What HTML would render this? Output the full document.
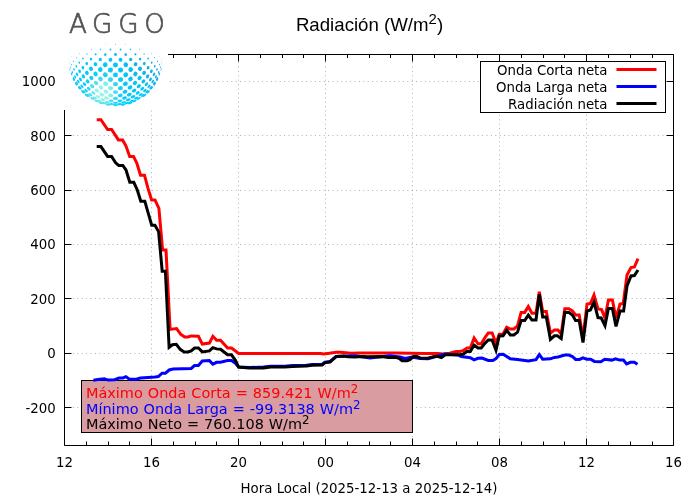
<!DOCTYPE html>
<html lang="es"><head><meta charset="utf-8"><title>Radiación (W/m2)</title>
<style>html,body{margin:0;padding:0;background:#fff;overflow:hidden}svg{display:block;will-change:transform}text{font-family:"DejaVu Sans","Liberation Sans",sans-serif;font-size:13.33px;fill:#000}.t{font-family:"Liberation Sans",sans-serif;font-size:18.67px}.b{font-size:14.45px;word-spacing:0.44px}</style></head><body>
<svg width="700" height="500" viewBox="0 0 700 500">
<rect width="700" height="500" fill="#fff"/>
<g stroke="#000" stroke-opacity="0.31" stroke-width="1" stroke-dasharray="1 3.4" stroke-dashoffset="0.4" fill="none"><line x1="64.50" y1="407.50" x2="673.50" y2="407.50"/><line x1="64.50" y1="353.50" x2="673.50" y2="353.50"/><line x1="64.50" y1="298.50" x2="673.50" y2="298.50"/><line x1="64.50" y1="244.50" x2="673.50" y2="244.50"/><line x1="64.50" y1="190.50" x2="673.50" y2="190.50"/><line x1="64.50" y1="135.50" x2="673.50" y2="135.50"/><line x1="64.50" y1="81.50" x2="673.50" y2="81.50"/><line x1="151.50" y1="445.50" x2="151.50" y2="54.50"/><line x1="238.50" y1="445.50" x2="238.50" y2="54.50"/><line x1="325.50" y1="445.50" x2="325.50" y2="54.50"/><line x1="412.50" y1="445.50" x2="412.50" y2="54.50"/><line x1="499.50" y1="445.50" x2="499.50" y2="54.50"/><line x1="586.50" y1="445.50" x2="586.50" y2="54.50"/></g>
<rect x="81.5" y="380.5" width="331" height="52" fill="#d89ca1" stroke="#000" stroke-width="1"/>
<path d="M64.5 54.5H673.5V445.5H64.5Z M64.50 445.50v-7 M64.50 54.50v7 M86.50 445.50v-4 M86.50 54.50v3.5 M108.50 445.50v-4 M108.50 54.50v3.5 M129.50 445.50v-4 M129.50 54.50v3.5 M151.50 445.50v-7 M151.50 54.50v7 M173.50 445.50v-4 M173.50 54.50v3.5 M195.50 445.50v-4 M195.50 54.50v3.5 M216.50 445.50v-4 M216.50 54.50v3.5 M238.50 445.50v-7 M238.50 54.50v7 M260.50 445.50v-4 M260.50 54.50v3.5 M282.50 445.50v-4 M282.50 54.50v3.5 M303.50 445.50v-4 M303.50 54.50v3.5 M325.50 445.50v-7 M325.50 54.50v7 M347.50 445.50v-4 M347.50 54.50v3.5 M369.50 445.50v-4 M369.50 54.50v3.5 M390.50 445.50v-4 M390.50 54.50v3.5 M412.50 445.50v-7 M412.50 54.50v7 M434.50 445.50v-4 M434.50 54.50v3.5 M456.50 445.50v-4 M456.50 54.50v3.5 M477.50 445.50v-4 M477.50 54.50v3.5 M499.50 445.50v-7 M499.50 54.50v7 M521.50 445.50v-4 M521.50 54.50v3.5 M543.50 445.50v-4 M543.50 54.50v3.5 M564.50 445.50v-4 M564.50 54.50v3.5 M586.50 445.50v-7 M586.50 54.50v7 M608.50 445.50v-4 M608.50 54.50v3.5 M630.50 445.50v-4 M630.50 54.50v3.5 M652.50 445.50v-4 M652.50 54.50v3.5 M673.50 445.50v-7 M673.50 54.50v7 M64.50 407.50h7 M673.50 407.50h-7 M64.50 353.50h7 M673.50 353.50h-7 M64.50 298.50h7 M673.50 298.50h-7 M64.50 244.50h7 M673.50 244.50h-7 M64.50 190.50h7 M673.50 190.50h-7 M64.50 135.50h7 M673.50 135.50h-7 M64.50 81.50h7 M673.50 81.50h-7" fill="none" stroke="#000" stroke-width="1"/>
<polyline fill="none" stroke="#ff0000" stroke-width="3" stroke-linejoin="miter" stroke-linecap="butt" points="96.7,119.7 100.9,119.7 107.6,129.5 111.6,129.5 118.4,139.9 122.6,139.9 126.0,146.0 129.7,156.4 133.5,156.4 136.8,163.0 140.5,175.2 144.5,175.2 147.8,187.6 151.6,199.9 155.0,199.9 158.9,208.4 162.6,249.9 166.0,249.9 170.1,329.4 176.6,328.5 180.8,334.3 184.7,336.9 188.0,336.9 191.2,335.9 198.4,336.3 202.3,344.1 209.4,343.1 212.9,336.3 216.6,340.2 220.5,340.2 227.6,348.0 231.5,348.0 238.7,353.5 320.7,353.6 323.6,354.0 329.3,353.3 336.4,352.2 340.7,352.2 350.7,353.3 359.3,352.9 396.4,353.0 425.0,353.5 438.1,353.4 442.6,354.1 449.7,353.2 456.1,351.5 460.0,351.5 463.2,350.6 467.1,348.0 470.3,348.0 474.1,338.0 478.0,343.8 481.2,343.8 485.1,337.4 488.3,332.9 492.1,332.9 496.0,343.1 499.3,334.2 503.1,334.0 506.7,327.2 510.3,329.0 513.9,329.0 517.5,325.9 521.1,312.4 524.7,312.4 528.3,306.6 531.9,313.3 536.0,313.3 539.3,291.7 542.7,311.5 546.3,311.5 550.4,333.1 554.4,330.0 558.0,330.0 561.2,334.0 564.8,308.8 568.8,308.8 572.4,311.0 575.6,315.0 579.2,315.0 583.0,338.0 587.0,304.0 590.4,303.6 594.0,295.0 598.0,309.0 601.6,309.6 605.0,318.0 608.4,300.0 612.4,300.0 616.0,318.0 620.0,304.0 623.2,303.6 627.0,275.0 631.0,267.6 634.4,267.0 638.0,258.6"/>
<polyline fill="none" stroke="#0000ff" stroke-width="3" stroke-linejoin="miter" stroke-linecap="butt" points="93.4,380.3 97.9,379.6 104.3,378.8 108.1,380.1 114.6,379.7 119.1,378.1 122.9,377.9 125.9,376.6 129.4,379.2 136.4,379.2 140.3,378.1 148.0,377.5 155.1,377.1 158.3,376.6 162.1,373.2 165.4,373.2 169.2,370.0 173.0,369.1 191.2,368.4 194.5,365.5 198.4,365.5 202.3,361.0 209.4,360.6 212.9,364.2 216.6,362.3 220.5,362.3 227.6,360.6 231.5,360.6 235.4,363.2 238.7,367.0 249.3,367.6 263.6,367.1 270.7,366.2 285.0,366.2 292.1,365.5 306.4,365.2 312.1,364.5 322.1,364.2 325.0,362.2 330.0,361.5 336.0,356.5 355.0,355.8 370.0,358.0 390.0,355.8 400.0,357.0 405.0,358.5 412.0,357.0 420.0,358.6 428.0,358.8 436.0,356.5 445.0,354.0 452.0,354.4 458.0,355.0 461.3,356.6 470.3,357.7 474.1,359.9 478.0,358.3 481.9,358.1 488.3,360.5 492.8,360.5 496.0,358.6 499.2,354.5 503.1,354.3 510.3,358.8 517.5,359.6 528.3,361.0 536.0,359.7 539.3,354.7 542.7,359.2 550.4,358.8 554.4,357.4 558.0,357.0 564.8,355.1 568.8,355.1 572.4,356.5 575.6,359.4 579.6,359.4 582.9,357.9 586.7,359.2 590.6,359.2 594.4,361.4 600.9,361.7 604.7,359.2 611.8,360.1 615.6,358.8 619.5,360.1 623.4,360.1 626.6,363.9 630.4,362.3 634.3,362.3 637.5,364.3"/>
<polyline fill="none" stroke="#000000" stroke-width="3" stroke-linejoin="miter" stroke-linecap="butt" points="96.7,146.6 100.9,146.6 107.6,156.4 111.6,156.4 115.6,162.8 118.8,165.5 122.8,165.5 126.0,170.0 129.8,182.3 133.8,182.3 137.3,190.0 140.8,201.2 144.8,201.2 148.0,212.4 151.7,225.2 154.9,225.2 158.6,231.6 162.2,271.2 165.4,271.2 169.1,347.3 172.4,344.7 176.3,344.3 180.2,349.3 184.1,351.9 188.0,351.9 191.2,350.8 194.5,348.0 198.4,348.0 202.3,351.9 209.4,350.9 212.9,347.6 216.6,348.9 220.5,349.3 227.6,354.8 231.5,354.8 235.4,360.3 238.6,367.1 249.3,367.9 263.6,367.9 270.7,367.1 285.0,367.1 292.1,366.4 306.4,366.1 312.1,365.3 322.1,365.0 325.0,362.6 330.0,362.1 336.4,356.4 343.6,356.1 347.9,356.7 355.0,357.1 360.7,356.4 367.9,356.7 382.1,356.4 387.9,357.4 396.4,357.4 399.3,358.6 402.1,360.7 407.1,360.7 410.0,359.6 413.6,356.4 416.4,356.2 420.1,357.9 427.9,358.3 434.3,356.6 438.1,356.6 441.4,357.5 445.2,354.7 460.0,354.7 463.2,354.1 467.1,351.5 470.3,351.5 474.1,345.1 478.0,348.0 481.2,348.0 485.1,343.1 488.3,339.9 492.1,339.9 496.0,350.2 499.2,335.9 503.1,335.8 506.7,330.4 510.3,334.9 513.9,334.9 517.5,332.2 521.1,320.5 524.7,320.5 528.3,315.1 531.9,320.0 536.0,320.0 539.3,294.3 542.7,316.9 546.3,316.9 550.4,339.4 554.4,335.8 557.4,335.8 561.2,338.5 564.8,312.4 568.8,312.4 572.4,315.1 575.6,320.5 579.2,320.5 583.0,342.6 587.0,311.0 590.4,310.0 594.0,302.4 598.0,317.6 601.2,318.0 605.0,325.6 608.4,308.4 612.4,308.4 616.0,326.4 620.0,311.0 623.6,311.0 627.0,286.0 631.0,276.0 634.4,275.6 638.0,270.0"/>
<rect x="480.5" y="61.5" width="185" height="51" fill="#fff" stroke="#000" stroke-width="1"/>
<text x="607.5" y="75.0" text-anchor="end">Onda Corta neta</text>
<line x1="616.5" y1="69.5" x2="656.5" y2="69.5" stroke="#ff0000" stroke-width="3"/>
<text x="607.5" y="92.0" text-anchor="end">Onda Larga neta</text>
<line x1="616.5" y1="86.5" x2="656.5" y2="86.5" stroke="#0000ff" stroke-width="3"/>
<text x="607.5" y="109.0" text-anchor="end">Radiación neta</text>
<line x1="616.5" y1="103.5" x2="656.5" y2="103.5" stroke="#000" stroke-width="3"/>
<rect x="60" y="0" width="108" height="110" fill="#fff"/>
<g><ellipse cx="68.5" cy="58.6" rx="0.13" ry="0.30" fill="#00c8fc" transform="rotate(180 68.5 58.6)"/><ellipse cx="69.1" cy="62.8" rx="0.24" ry="0.58" fill="#00c8fc" transform="rotate(175 69.1 62.8)"/><ellipse cx="69.9" cy="69.5" rx="0.43" ry="1.03" fill="#00c8fc" transform="rotate(166 69.9 69.5)"/><ellipse cx="70.0" cy="60.0" rx="0.21" ry="0.50" fill="#00c8fc" transform="rotate(178 70.0 60.0)"/><ellipse cx="70.4" cy="67.4" rx="0.40" ry="0.95" fill="#00c8fc" transform="rotate(169 70.4 67.4)"/><ellipse cx="71.6" cy="74.0" rx="0.62" ry="1.47" fill="#00c8fc" transform="rotate(160 71.6 74.0)"/><ellipse cx="73.7" cy="79.7" rx="0.72" ry="1.71" fill="#00c8fc" transform="rotate(153 73.7 79.7)"/><ellipse cx="71.6" cy="56.7" rx="0.19" ry="0.39" fill="#00c8fc" transform="rotate(-178 71.6 56.7)"/><ellipse cx="71.6" cy="64.6" rx="0.41" ry="0.88" fill="#00c8fc" transform="rotate(172 71.6 64.6)"/><ellipse cx="72.4" cy="72.1" rx="0.60" ry="1.42" fill="#00c8fc" transform="rotate(162 72.4 72.1)"/><ellipse cx="74.0" cy="78.7" rx="0.73" ry="1.73" fill="#00c8fc" transform="rotate(154 74.0 78.7)"/><ellipse cx="76.2" cy="84.0" rx="0.78" ry="1.85" fill="#01c8fc" transform="rotate(147 76.2 84.0)"/><ellipse cx="73.6" cy="61.4" rx="0.45" ry="0.79" fill="#00c8fc" transform="rotate(176 73.6 61.4)"/><ellipse cx="74.0" cy="69.5" rx="0.73" ry="1.37" fill="#00c8fc" transform="rotate(165 74.0 69.5)"/><ellipse cx="75.1" cy="76.9" rx="0.81" ry="1.79" fill="#00c8fc" transform="rotate(155 75.1 76.9)"/><ellipse cx="76.9" cy="83.2" rx="0.79" ry="1.88" fill="#01c8fc" transform="rotate(147 76.9 83.2)"/><ellipse cx="79.3" cy="88.1" rx="0.83" ry="1.97" fill="#04c9fb" transform="rotate(141 79.3 88.1)"/><ellipse cx="76.3" cy="57.6" rx="0.43" ry="0.65" fill="#00c8fc" transform="rotate(-179 76.3 57.6)"/><ellipse cx="76.3" cy="66.3" rx="0.82" ry="1.29" fill="#00c8fc" transform="rotate(169 76.3 66.3)"/><ellipse cx="77.0" cy="74.4" rx="1.09" ry="1.88" fill="#00c8fc" transform="rotate(157 77.0 74.4)"/><ellipse cx="78.3" cy="81.6" rx="0.95" ry="1.94" fill="#01c8fc" transform="rotate(148 78.3 81.6)"/><ellipse cx="80.2" cy="87.6" rx="0.84" ry="2.01" fill="#05cafb" transform="rotate(140 80.2 87.6)"/><ellipse cx="82.7" cy="91.9" rx="0.88" ry="2.09" fill="#0cccfa" transform="rotate(134 82.7 91.9)"/><ellipse cx="79.6" cy="53.5" rx="0.33" ry="0.46" fill="#00c8fc" transform="rotate(-172 79.6 53.5)"/><ellipse cx="79.3" cy="62.6" rx="0.84" ry="1.16" fill="#00c8fc" transform="rotate(173 79.3 62.6)"/><ellipse cx="79.6" cy="71.3" rx="1.28" ry="1.87" fill="#00c8fc" transform="rotate(160 79.6 71.3)"/><ellipse cx="80.5" cy="79.4" rx="1.24" ry="2.02" fill="#02c9fc" transform="rotate(149 80.5 79.4)"/><ellipse cx="82.0" cy="86.3" rx="1.04" ry="2.07" fill="#08cafb" transform="rotate(140 82.0 86.3)"/><ellipse cx="84.0" cy="91.7" rx="0.89" ry="2.13" fill="#11cdf9" transform="rotate(133 84.0 91.7)"/><ellipse cx="86.5" cy="95.3" rx="0.92" ry="2.19" fill="#1ed3f8" transform="rotate(128 86.5 95.3)"/><ellipse cx="82.9" cy="58.4" rx="0.78" ry="0.98" fill="#00c8fc" transform="rotate(180 82.9 58.4)"/><ellipse cx="82.9" cy="67.7" rx="1.36" ry="1.76" fill="#00c8fc" transform="rotate(164 82.9 67.7)"/><ellipse cx="83.4" cy="76.4" rx="1.51" ry="2.11" fill="#03c9fc" transform="rotate(151 83.4 76.4)"/><ellipse cx="84.5" cy="84.2" rx="1.34" ry="2.14" fill="#0dccfa" transform="rotate(140 84.5 84.2)"/><ellipse cx="86.1" cy="90.6" rx="1.09" ry="2.18" fill="#1cd1f7" transform="rotate(132 86.1 90.6)"/><ellipse cx="88.1" cy="95.3" rx="0.94" ry="2.23" fill="#2ad6f6" transform="rotate(127 88.1 95.3)"/><ellipse cx="86.9" cy="54.0" rx="0.64" ry="0.75" fill="#00c8fc" transform="rotate(-171 86.9 54.0)"/><ellipse cx="86.7" cy="63.6" rx="1.34" ry="1.59" fill="#00c8fc" transform="rotate(170 86.7 63.6)"/><ellipse cx="86.9" cy="72.9" rx="1.77" ry="2.20" fill="#03c9fc" transform="rotate(153 86.9 72.9)"/><ellipse cx="87.6" cy="81.4" rx="1.62" ry="2.22" fill="#13cef9" transform="rotate(140 87.6 81.4)"/><ellipse cx="88.8" cy="88.7" rx="1.40" ry="2.24" fill="#30d6f4" transform="rotate(131 88.8 88.7)"/><ellipse cx="90.4" cy="94.6" rx="1.09" ry="2.28" fill="#43ddf2" transform="rotate(125 90.4 94.6)"/><ellipse cx="92.3" cy="98.5" rx="0.97" ry="2.31" fill="#47e0f2" transform="rotate(120 92.3 98.5)"/><ellipse cx="91.4" cy="49.3" rx="0.42" ry="0.47" fill="#00c8fc" transform="rotate(-159 91.4 49.3)"/><ellipse cx="91.0" cy="59.1" rx="1.21" ry="1.36" fill="#00c8fc" transform="rotate(178 91.0 59.1)"/><ellipse cx="91.0" cy="68.8" rx="1.96" ry="2.24" fill="#02c9fc" transform="rotate(157 91.0 68.8)"/><ellipse cx="91.4" cy="78.0" rx="1.88" ry="2.29" fill="#15cef9" transform="rotate(141 91.4 78.0)"/><ellipse cx="92.2" cy="86.2" rx="1.68" ry="2.31" fill="#4adef0" transform="rotate(130 92.2 86.2)"/><ellipse cx="93.3" cy="92.9" rx="1.41" ry="2.33" fill="#6de9eb" transform="rotate(123 93.3 92.9)"/><ellipse cx="94.8" cy="98.0" rx="1.04" ry="2.35" fill="#67e8ec" transform="rotate(118 94.8 98.0)"/><ellipse cx="96.6" cy="101.1" rx="1.00" ry="2.38" fill="#59e5ef" transform="rotate(114 96.6 101.1)"/><ellipse cx="95.6" cy="54.3" rx="0.99" ry="1.07" fill="#00c8fc" transform="rotate(-168 95.6 54.3)"/><ellipse cx="95.5" cy="64.3" rx="1.86" ry="2.01" fill="#01c8fc" transform="rotate(164 95.5 64.3)"/><ellipse cx="95.6" cy="74.0" rx="2.10" ry="2.36" fill="#0fcdfa" transform="rotate(142 95.6 74.0)"/><ellipse cx="96.1" cy="82.9" rx="1.93" ry="2.37" fill="#55e2ee" transform="rotate(128 96.1 82.9)"/><ellipse cx="96.9" cy="90.6" rx="1.69" ry="2.38" fill="#96f5e4" transform="rotate(120 96.9 90.6)"/><ellipse cx="98.0" cy="96.7" rx="1.36" ry="2.40" fill="#96f5e4" transform="rotate(115 98.0 96.7)"/><ellipse cx="99.3" cy="100.9" rx="1.01" ry="2.41" fill="#6febeb" transform="rotate(111 99.3 100.9)"/><ellipse cx="100.9" cy="103.0" rx="1.02" ry="2.43" fill="#58e5ef" transform="rotate(108 100.9 103.0)"/><ellipse cx="100.5" cy="49.4" rx="0.69" ry="0.73" fill="#01c7fb" transform="rotate(-149 100.5 49.4)"/><ellipse cx="100.3" cy="59.5" rx="1.64" ry="1.70" fill="#00c8fc" transform="rotate(176 100.3 59.5)"/><ellipse cx="100.3" cy="69.6" rx="2.28" ry="2.42" fill="#06cafb" transform="rotate(144 100.3 69.6)"/><ellipse cx="100.5" cy="79.0" rx="2.15" ry="2.42" fill="#3fdbf2" transform="rotate(126 100.5 79.0)"/><ellipse cx="101.0" cy="87.5" rx="1.93" ry="2.43" fill="#96f5e4" transform="rotate(116 101.0 87.5)"/><ellipse cx="101.7" cy="94.6" rx="1.64" ry="2.44" fill="#96f5e4" transform="rotate(111 101.7 94.6)"/><ellipse cx="102.7" cy="99.8" rx="1.25" ry="2.44" fill="#89f2e6" transform="rotate(107 102.7 99.8)"/><ellipse cx="103.7" cy="103.1" rx="1.03" ry="2.45" fill="#59e6ef" transform="rotate(105 103.7 103.1)"/><ellipse cx="105.6" cy="44.5" rx="0.34" ry="0.35" fill="#06bef6" transform="rotate(-126 105.6 44.5)"/><ellipse cx="105.3" cy="54.6" rx="1.32" ry="1.34" fill="#01c7fb" transform="rotate(-159 105.3 54.6)"/><ellipse cx="105.2" cy="64.8" rx="2.29" ry="2.35" fill="#01c8fc" transform="rotate(148 105.2 64.8)"/><ellipse cx="105.3" cy="74.7" rx="2.31" ry="2.47" fill="#1ad0f8" transform="rotate(122 105.3 74.7)"/><ellipse cx="105.6" cy="83.8" rx="2.14" ry="2.47" fill="#7eeee8" transform="rotate(111 105.6 83.8)"/><ellipse cx="106.0" cy="91.7" rx="1.88" ry="2.47" fill="#96f5e4" transform="rotate(106 106.0 91.7)"/><ellipse cx="106.5" cy="98.0" rx="1.53" ry="2.47" fill="#96f5e4" transform="rotate(103 106.5 98.0)"/><ellipse cx="107.2" cy="102.4" rx="1.08" ry="2.48" fill="#59e5ef" transform="rotate(101 107.2 102.4)"/><ellipse cx="108.0" cy="104.6" rx="1.04" ry="2.48" fill="#3bdff4" transform="rotate(99 108.0 104.6)"/><ellipse cx="110.4" cy="49.5" rx="0.91" ry="0.93" fill="#06bef6" transform="rotate(-120 110.4 49.5)"/><ellipse cx="110.4" cy="59.8" rx="1.94" ry="1.95" fill="#01c7fb" transform="rotate(165 110.4 59.8)"/><ellipse cx="110.4" cy="70.0" rx="2.43" ry="2.49" fill="#05cafb" transform="rotate(114 110.4 70.0)"/><ellipse cx="110.4" cy="79.6" rx="2.29" ry="2.49" fill="#31d7f4" transform="rotate(103 110.4 79.6)"/><ellipse cx="110.6" cy="88.2" rx="2.07" ry="2.49" fill="#80eee8" transform="rotate(99 110.6 88.2)"/><ellipse cx="110.8" cy="95.4" rx="1.76" ry="2.49" fill="#7feee8" transform="rotate(97 110.8 95.4)"/><ellipse cx="111.1" cy="100.8" rx="1.36" ry="2.49" fill="#4ee2f1" transform="rotate(96 111.1 100.8)"/><ellipse cx="111.5" cy="104.1" rx="1.05" ry="2.49" fill="#2edbf7" transform="rotate(95 111.5 104.1)"/><ellipse cx="115.5" cy="44.5" rx="0.46" ry="0.47" fill="#0ab5f1" transform="rotate(-90 115.5 44.5)"/><ellipse cx="115.5" cy="54.6" rx="1.48" ry="1.49" fill="#05bef6" transform="rotate(-90 115.5 54.6)"/><ellipse cx="115.5" cy="64.9" rx="2.48" ry="2.50" fill="#01c7fb" transform="rotate(90 115.5 64.9)"/><ellipse cx="115.5" cy="74.9" rx="2.39" ry="2.50" fill="#0acbfa" transform="rotate(90 115.5 74.9)"/><ellipse cx="115.5" cy="84.1" rx="2.21" ry="2.50" fill="#2ed6f5" transform="rotate(90 115.5 84.1)"/><ellipse cx="115.5" cy="92.1" rx="1.94" ry="2.50" fill="#47ddf1" transform="rotate(90 115.5 92.1)"/><ellipse cx="115.5" cy="98.4" rx="1.59" ry="2.50" fill="#35dbf4" transform="rotate(90 115.5 98.4)"/><ellipse cx="115.5" cy="102.8" rx="1.14" ry="2.50" fill="#20d7f9" transform="rotate(90 115.5 102.8)"/><ellipse cx="115.5" cy="105.1" rx="1.05" ry="2.50" fill="#16d5fb" transform="rotate(90 115.5 105.1)"/><ellipse cx="120.6" cy="49.5" rx="0.91" ry="0.93" fill="#0ab5f1" transform="rotate(-60 120.6 49.5)"/><ellipse cx="120.6" cy="59.8" rx="1.94" ry="1.95" fill="#06bef6" transform="rotate(15 120.6 59.8)"/><ellipse cx="120.6" cy="70.0" rx="2.43" ry="2.49" fill="#01c7fb" transform="rotate(66 120.6 70.0)"/><ellipse cx="120.6" cy="79.6" rx="2.29" ry="2.49" fill="#09cbfb" transform="rotate(77 120.6 79.6)"/><ellipse cx="120.4" cy="88.2" rx="2.07" ry="2.49" fill="#17cff8" transform="rotate(81 120.4 88.2)"/><ellipse cx="120.2" cy="95.4" rx="1.76" ry="2.49" fill="#19d1f9" transform="rotate(83 120.2 95.4)"/><ellipse cx="119.9" cy="100.8" rx="1.36" ry="2.49" fill="#11d2fb" transform="rotate(84 119.9 100.8)"/><ellipse cx="119.5" cy="104.1" rx="1.05" ry="2.49" fill="#0cd3fd" transform="rotate(85 119.5 104.1)"/><ellipse cx="125.4" cy="44.5" rx="0.34" ry="0.35" fill="#0fadec" transform="rotate(-54 125.4 44.5)"/><ellipse cx="125.7" cy="54.6" rx="1.32" ry="1.34" fill="#0ab5f1" transform="rotate(-21 125.7 54.6)"/><ellipse cx="125.8" cy="64.8" rx="2.29" ry="2.35" fill="#06bef6" transform="rotate(32 125.8 64.8)"/><ellipse cx="125.7" cy="74.7" rx="2.31" ry="2.47" fill="#01c7fb" transform="rotate(58 125.7 74.7)"/><ellipse cx="125.4" cy="83.8" rx="2.14" ry="2.47" fill="#04c9fb" transform="rotate(69 125.4 83.8)"/><ellipse cx="125.0" cy="91.7" rx="1.88" ry="2.47" fill="#07cafb" transform="rotate(74 125.0 91.7)"/><ellipse cx="124.5" cy="98.0" rx="1.53" ry="2.47" fill="#07cefc" transform="rotate(77 124.5 98.0)"/><ellipse cx="123.8" cy="102.4" rx="1.08" ry="2.48" fill="#05d0fe" transform="rotate(79 123.8 102.4)"/><ellipse cx="123.0" cy="104.6" rx="1.04" ry="2.48" fill="#04d1fe" transform="rotate(81 123.0 104.6)"/><ellipse cx="130.5" cy="49.4" rx="0.69" ry="0.73" fill="#0fadec" transform="rotate(-31 130.5 49.4)"/><ellipse cx="130.7" cy="59.5" rx="1.64" ry="1.70" fill="#0ab5f1" transform="rotate(4 130.7 59.5)"/><ellipse cx="130.7" cy="69.6" rx="2.28" ry="2.42" fill="#06bef6" transform="rotate(36 130.7 69.6)"/><ellipse cx="130.5" cy="79.0" rx="2.15" ry="2.42" fill="#01c6fb" transform="rotate(54 130.5 79.0)"/><ellipse cx="130.0" cy="87.5" rx="1.93" ry="2.43" fill="#01c8fc" transform="rotate(64 130.0 87.5)"/><ellipse cx="129.3" cy="94.6" rx="1.64" ry="2.44" fill="#02cafc" transform="rotate(69 129.3 94.6)"/><ellipse cx="128.3" cy="99.8" rx="1.25" ry="2.44" fill="#02cefe" transform="rotate(73 128.3 99.8)"/><ellipse cx="127.3" cy="103.1" rx="1.03" ry="2.45" fill="#02d0ff" transform="rotate(75 127.3 103.1)"/><ellipse cx="135.4" cy="54.3" rx="0.99" ry="1.07" fill="#0fadec" transform="rotate(-12 135.4 54.3)"/><ellipse cx="135.5" cy="64.3" rx="1.86" ry="2.01" fill="#0ab5f1" transform="rotate(16 135.5 64.3)"/><ellipse cx="135.4" cy="74.0" rx="2.10" ry="2.36" fill="#06bef6" transform="rotate(38 135.4 74.0)"/><ellipse cx="134.9" cy="82.9" rx="1.93" ry="2.37" fill="#01c6fb" transform="rotate(52 134.9 82.9)"/><ellipse cx="134.1" cy="90.6" rx="1.69" ry="2.38" fill="#00c8fc" transform="rotate(60 134.1 90.6)"/><ellipse cx="133.0" cy="96.7" rx="1.36" ry="2.40" fill="#00cbfd" transform="rotate(65 133.0 96.7)"/><ellipse cx="131.7" cy="100.9" rx="1.01" ry="2.41" fill="#00cefe" transform="rotate(69 131.7 100.9)"/><ellipse cx="130.1" cy="103.0" rx="1.02" ry="2.43" fill="#01cfff" transform="rotate(72 130.1 103.0)"/><ellipse cx="139.6" cy="49.3" rx="0.42" ry="0.47" fill="#14a5e7" transform="rotate(-21 139.6 49.3)"/><ellipse cx="140.0" cy="59.1" rx="1.21" ry="1.36" fill="#0fadec" transform="rotate(2 140.0 59.1)"/><ellipse cx="140.0" cy="68.8" rx="1.96" ry="2.24" fill="#0ab5f1" transform="rotate(23 140.0 68.8)"/><ellipse cx="139.6" cy="78.0" rx="1.88" ry="2.29" fill="#06bef6" transform="rotate(39 139.6 78.0)"/><ellipse cx="138.8" cy="86.2" rx="1.68" ry="2.31" fill="#02c5fa" transform="rotate(50 138.8 86.2)"/><ellipse cx="137.7" cy="92.9" rx="1.41" ry="2.33" fill="#00c9fc" transform="rotate(57 137.7 92.9)"/><ellipse cx="136.2" cy="98.0" rx="1.04" ry="2.35" fill="#00ccfd" transform="rotate(62 136.2 98.0)"/><ellipse cx="134.4" cy="101.1" rx="1.00" ry="2.38" fill="#00cefe" transform="rotate(66 134.4 101.1)"/><ellipse cx="144.1" cy="54.0" rx="0.64" ry="0.75" fill="#14a5e7" transform="rotate(-9 144.1 54.0)"/><ellipse cx="144.3" cy="63.6" rx="1.34" ry="1.59" fill="#0fadec" transform="rotate(10 144.3 63.6)"/><ellipse cx="144.1" cy="72.9" rx="1.77" ry="2.20" fill="#0ab5f1" transform="rotate(27 144.1 72.9)"/><ellipse cx="143.4" cy="81.4" rx="1.62" ry="2.22" fill="#06bdf6" transform="rotate(40 143.4 81.4)"/><ellipse cx="142.2" cy="88.7" rx="1.40" ry="2.24" fill="#02c5fa" transform="rotate(49 142.2 88.7)"/><ellipse cx="140.6" cy="94.6" rx="1.09" ry="2.28" fill="#00cafd" transform="rotate(55 140.6 94.6)"/><ellipse cx="138.7" cy="98.5" rx="0.97" ry="2.31" fill="#00ccfe" transform="rotate(60 138.7 98.5)"/><ellipse cx="148.1" cy="58.4" rx="0.78" ry="0.98" fill="#13a5e7" transform="rotate(0 148.1 58.4)"/><ellipse cx="148.1" cy="67.7" rx="1.36" ry="1.76" fill="#0fadec" transform="rotate(16 148.1 67.7)"/><ellipse cx="147.6" cy="76.4" rx="1.51" ry="2.11" fill="#0ab5f1" transform="rotate(29 147.6 76.4)"/><ellipse cx="146.5" cy="84.2" rx="1.34" ry="2.14" fill="#06bdf5" transform="rotate(40 146.5 84.2)"/><ellipse cx="144.9" cy="90.6" rx="1.09" ry="2.18" fill="#02c4f9" transform="rotate(48 144.9 90.6)"/><ellipse cx="142.9" cy="95.3" rx="0.94" ry="2.23" fill="#00cafd" transform="rotate(53 142.9 95.3)"/><ellipse cx="151.4" cy="53.5" rx="0.33" ry="0.46" fill="#179ee3" transform="rotate(-8 151.4 53.5)"/><ellipse cx="151.7" cy="62.6" rx="0.84" ry="1.16" fill="#13a6e7" transform="rotate(7 151.7 62.6)"/><ellipse cx="151.4" cy="71.3" rx="1.28" ry="1.87" fill="#0faeec" transform="rotate(20 151.4 71.3)"/><ellipse cx="150.5" cy="79.4" rx="1.24" ry="2.02" fill="#0ab5f1" transform="rotate(31 150.5 79.4)"/><ellipse cx="149.0" cy="86.3" rx="1.04" ry="2.07" fill="#06bdf5" transform="rotate(40 149.0 86.3)"/><ellipse cx="147.0" cy="91.7" rx="0.89" ry="2.13" fill="#03c3f9" transform="rotate(47 147.0 91.7)"/><ellipse cx="144.5" cy="95.3" rx="0.92" ry="2.19" fill="#00cafd" transform="rotate(52 144.5 95.3)"/><ellipse cx="154.7" cy="57.6" rx="0.43" ry="0.65" fill="#179fe3" transform="rotate(-1 154.7 57.6)"/><ellipse cx="154.7" cy="66.3" rx="0.82" ry="1.29" fill="#13a6e8" transform="rotate(11 154.7 66.3)"/><ellipse cx="154.0" cy="74.4" rx="1.09" ry="1.88" fill="#0faeec" transform="rotate(23 154.0 74.4)"/><ellipse cx="152.7" cy="81.6" rx="0.95" ry="1.94" fill="#0ab5f1" transform="rotate(32 152.7 81.6)"/><ellipse cx="150.8" cy="87.6" rx="0.84" ry="2.01" fill="#07bcf5" transform="rotate(40 150.8 87.6)"/><ellipse cx="148.3" cy="91.9" rx="0.88" ry="2.09" fill="#03c2f8" transform="rotate(46 148.3 91.9)"/><ellipse cx="157.4" cy="61.4" rx="0.45" ry="0.79" fill="#16a0e4" transform="rotate(4 157.4 61.4)"/><ellipse cx="157.0" cy="69.5" rx="0.73" ry="1.37" fill="#12a7e8" transform="rotate(15 157.0 69.5)"/><ellipse cx="155.9" cy="76.9" rx="0.81" ry="1.79" fill="#0eafed" transform="rotate(25 155.9 76.9)"/><ellipse cx="154.1" cy="83.2" rx="0.79" ry="1.88" fill="#0ab6f1" transform="rotate(33 154.1 83.2)"/><ellipse cx="151.7" cy="88.1" rx="0.83" ry="1.97" fill="#07bcf5" transform="rotate(39 151.7 88.1)"/><ellipse cx="159.4" cy="56.7" rx="0.19" ry="0.39" fill="#1a9ae1" transform="rotate(-2 159.4 56.7)"/><ellipse cx="159.4" cy="64.6" rx="0.41" ry="0.88" fill="#16a1e5" transform="rotate(8 159.4 64.6)"/><ellipse cx="158.6" cy="72.1" rx="0.60" ry="1.42" fill="#12a8e9" transform="rotate(18 158.6 72.1)"/><ellipse cx="157.0" cy="78.7" rx="0.73" ry="1.73" fill="#0eafed" transform="rotate(26 157.0 78.7)"/><ellipse cx="154.8" cy="84.0" rx="0.78" ry="1.85" fill="#0ab6f1" transform="rotate(33 154.8 84.0)"/><ellipse cx="161.0" cy="60.0" rx="0.21" ry="0.50" fill="#199ce1" transform="rotate(2 161.0 60.0)"/><ellipse cx="160.6" cy="67.4" rx="0.40" ry="0.95" fill="#15a2e5" transform="rotate(11 160.6 67.4)"/><ellipse cx="159.4" cy="74.0" rx="0.62" ry="1.47" fill="#11a9e9" transform="rotate(20 159.4 74.0)"/><ellipse cx="157.3" cy="79.7" rx="0.72" ry="1.71" fill="#0eb0ed" transform="rotate(27 157.3 79.7)"/><ellipse cx="161.9" cy="62.8" rx="0.24" ry="0.58" fill="#189de2" transform="rotate(5 161.9 62.8)"/><ellipse cx="161.1" cy="69.5" rx="0.43" ry="1.03" fill="#14a4e6" transform="rotate(14 161.1 69.5)"/><ellipse cx="162.5" cy="58.6" rx="0.13" ry="0.30" fill="#1a99e0" transform="rotate(0 162.5 58.6)"/></g>
<g style="font-family:'DejaVu Sans',sans-serif;font-weight:200;font-size:26.2px;fill:#535353;stroke:#535353;stroke-width:0.7px" text-anchor="middle"><text x="77.9" y="33" style="font-family:inherit;font-size:inherit;font-weight:inherit;fill:inherit">A</text><text x="102.2" y="33" style="font-family:inherit;font-size:inherit;font-weight:inherit;fill:inherit">G</text><text x="128.4" y="33" style="font-family:inherit;font-size:inherit;font-weight:inherit;fill:inherit">G</text><text x="154.6" y="33" style="font-family:inherit;font-size:inherit;font-weight:inherit;fill:inherit">O</text></g>
<text x="55.7" y="413.0" text-anchor="end">-200</text>
<text x="55.7" y="358.0" text-anchor="end">0</text>
<text x="55.7" y="303.7" text-anchor="end">200</text>
<text x="55.7" y="249.0" text-anchor="end">400</text>
<text x="55.7" y="195.0" text-anchor="end">600</text>
<text x="55.7" y="140.6" text-anchor="end">800</text>
<text x="55.7" y="86.0" text-anchor="end">1000</text>
<text x="64.5" y="467.3" text-anchor="middle">12</text>
<text x="151.5" y="467.3" text-anchor="middle">16</text>
<text x="238.5" y="467.3" text-anchor="middle">20</text>
<text x="325.5" y="467.3" text-anchor="middle">00</text>
<text x="412.5" y="467.3" text-anchor="middle">04</text>
<text x="499.5" y="467.3" text-anchor="middle">08</text>
<text x="586.5" y="467.3" text-anchor="middle">12</text>
<text x="673.5" y="467.3" text-anchor="middle">16</text>
<text x="369" y="492.8" text-anchor="middle">Hora Local (2025-12-13 a 2025-12-14)</text>
<text class="t" x="369.5" y="30.7" text-anchor="middle">Radiación (W/m<tspan dy="-6.5" font-size="14.9px">2</tspan><tspan dy="6.5">)</tspan></text>
<text class="b" x="86.0" y="398.1" style="fill:#ff0000">Máximo Onda Corta = 859.421 W/m<tspan dy="-4.8" font-size="11.8px">2</tspan></text>
<text class="b" x="86.0" y="413.9" style="fill:#0000ff">Mínimo Onda Larga = -99.3138 W/m<tspan dy="-4.8" font-size="11.8px">2</tspan></text>
<text class="b" x="86.0" y="429" style="fill:#000">Máximo Neto = 760.108 W/m<tspan dy="-4.8" font-size="11.8px">2</tspan></text>
</svg></body></html>
